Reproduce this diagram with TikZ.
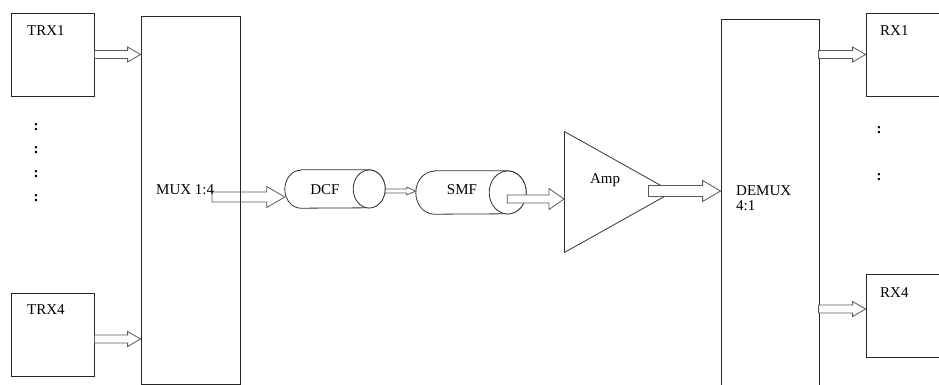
\documentclass[tikz,border=0pt]{standalone}
\usepackage{fontspec}
\setmainfont{Liberation Serif}
\usepackage{tikz}
\usetikzlibrary{positioning, shapes.geometric, arrows.meta, calc}

% hollow block arrow: [extra], from, to, shaft half width, head half width, head length
\newcommand{\blockarrow}[6][]{%
  \draw[blockline, #1] let \p1=(#2), \p2=(#3) in
    (\x1,\y1+#4pt) -- (\x2-#6pt,\y1+#4pt) -- (\x2-#6pt,\y1+#5pt) -- (\x2,\y1)
    -- (\x2-#6pt,\y1-#5pt) -- (\x2-#6pt,\y1-#4pt) -- (\x1,\y1-#4pt) -- cycle;}
% fibre drawn as a lying cylinder round a node: node, end x radius, end y radius
\newcommand{\fibrebody}[3]{%
  \draw[fibreline] ($(#1.north west)+(#2,0)$) -- ($(#1.north east)+(-#2,0)$)
    arc[start angle=-90, end angle=90, x radius=#2, y radius=#3]
    -- ($(#1.south west)+(#2,0)$)
    arc[start angle=90, end angle=270, x radius=#2, y radius=#3] -- cycle;
  \draw[fibreline] ($(#1.east)+(-#2,0)$) ellipse[x radius=#2, y radius=#3];}

\begin{document}
\begin{tikzpicture}[
  x=1pt, y=-1pt,
  every node/.style={font=\fontsize{15}{17}\selectfont},
  unit/.style={draw=black!85, line width=0.8pt, inner sep=0pt},
  fibre/.style={inner sep=0pt},
  fibreline/.style={draw=black!80, line width=0.8pt, fill=white},
  blockline/.style={draw=black!65, line width=0.8pt, fill=white},
  dotmark/.style={font=\fontsize{15}{17}\selectfont\bfseries, inner sep=0pt}
]
\useasboundingbox (0,0) rectangle (939,385);
\clip (0,0) rectangle (939,385);

% ---- Transmitters ----
\node[unit, minimum width=83pt, minimum height=83pt] (trx1) at (52.5,54.5) {};
\node[unit, minimum width=83pt, minimum height=83pt] (trx4) at (52.5,334.5) {};
\node[anchor=west, inner sep=0pt] (trx1lbl) at (27,31) {TRX1};
\node[anchor=west, inner sep=0pt] (trx4lbl) at (27,310) {TRX4};
\foreach \yy [count=\i] in {127,150,174,198}
  \node[dotmark] (tdot\i) at (36,\yy) {:};

% ---- Receivers ----
\node[unit, minimum width=94pt, minimum height=83pt] (rx1) at (913,54.5) {};
\node[unit, minimum width=94pt, minimum height=83pt] (rx4) at (913,315.5) {};
\node[anchor=west, inner sep=0pt] (rx1lbl) at (880,31) {RX1};
\node[anchor=west, inner sep=0pt] (rx4lbl) at (880,293) {RX4};
\foreach \yy [count=\i] in {130,177}
  \node[dotmark] (rdot\i) at (879,\yy) {:};

% ---- Mux / demux ----
\node[unit, minimum width=99pt, minimum height=368pt] (mux) at (190.5,200) {};
\node[unit, minimum width=98pt, minimum height=368pt] (demux) at (770,203) {};

% ---- Fibres and amplifier ----
\node[fibre, minimum width=100pt, minimum height=38pt] (dcf) at (335,189) {};
\node[fibre, minimum width=110pt, minimum height=43pt] (smf) at (471,192.5) {};
\fibrebody{dcf}{16}{19}
\fibrebody{smf}{18.5}{21.5}
\node (dcflbl) at (325,190) {DCF};
\node (smflbl) at (462,190) {SMF};
\node[draw=black!80, line width=0.8pt, isosceles triangle, isosceles triangle stretches,
      minimum width=121pt, minimum height=108pt, inner sep=0pt, anchor=lower side]
  (amp) at (564,192) {};
\node (amplbl) at (605,180) {Amp};

% ---- Block arrows ----
\coordinate (muxout) at (212,197);
\blockarrow{trx1.east}{mux.west}{4}{7.5}{13}
\blockarrow{$(trx4.east)+(0,4.5)$}{mux.west}{4}{7.5}{13}
\blockarrow[fill=none]{muxout}{dcf.west}{5}{10.5}{18}
\blockarrow{$(dcf.east)+(0,2)$}{smf.west}{2}{3.8}{9}
\blockarrow{$(smf.east)+(-19,6.5)$}{amp.lower side}{4}{10.5}{15}
\blockarrow{$(amp.apex)+(-25,-1)$}{demux.west}{5.5}{10.5}{18}
\blockarrow{$(rx1.west)+(-47,0)$}{rx1.west}{4}{7.5}{13}
\blockarrow{$(rx4.west)+(-47,-6.5)$}{rx4.west}{4}{7.5}{13}

% ---- Labels ----
\node[anchor=west, inner sep=0pt] (muxlbl) at (156,190) {MUX 1:4};
\node[anchor=north west, inner sep=0pt, align=left] (demuxlbl) at (736,185)
  {DEMUX\\[-2pt]4:1};

\end{tikzpicture}
\end{document}
